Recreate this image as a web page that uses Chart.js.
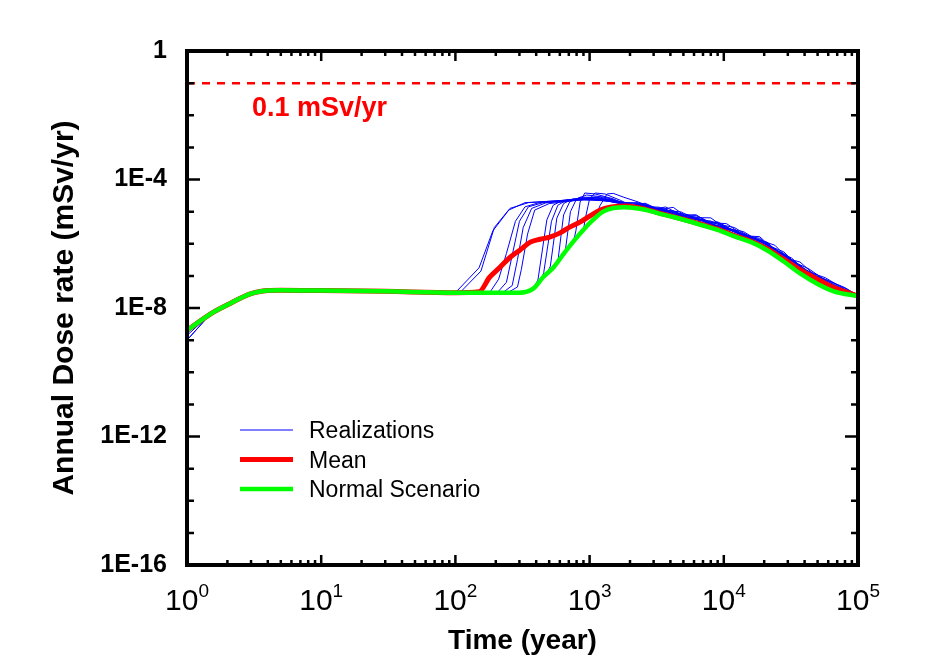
<!DOCTYPE html>
<html>
<head>
<meta charset="utf-8">
<script src="https://cdn.jsdelivr.net/npm/chart.js@4.4.1/dist/chart.umd.min.js"></script>
<style>
  html, body { margin: 0; padding: 0; background: #fff; }
</style>
</head>
<body>
<canvas id="doseChart" width="944" height="663"></canvas>
<script>
// Normal scenario (green) - time in years, dose in mSv/yr
const normalTime = [1, 1.5, 2, 3, 4, 5, 10, 30, 100, 300, 380, 450, 540, 630, 750, 890, 1060, 1260, 1500, 1800,
    2000, 2600, 3300, 4200, 5400, 7000, 9000, 12000, 16000, 21000, 28000, 37000, 50000, 66000, 100000];
const normalDose = [2.0e-9, 6.6e-9, 1.26e-8, 2.8e-8, 3.5e-8, 3.6e-8, 3.5e-8, 3.3e-8, 3.0e-8, 3.0e-8, 4.0e-8, 9.1e-8, 1.86e-7, 4.4e-7, 1.12e-6, 2.6e-6, 5.5e-6, 1.0e-5, 1.29e-5, 1.38e-5,
    1.35e-5, 1.15e-5, 8.7e-6, 6.8e-6, 5.1e-6, 3.7e-6, 2.7e-6, 1.7e-6, 1.12e-6, 6.3e-7, 2.8e-7, 1.2e-7, 5.6e-8, 3.3e-8, 2.35e-8];

// Mean of realizations (red)
const meanTime = [1, 1.5, 2, 3, 4, 5, 10, 30, 100, 150, 180, 215, 256, 302, 361, 427, 504, 598, 710, 847, 1000, 1200, 1420, 1900,
    2600, 3300, 4200, 5400, 7000, 9000, 12000, 16000, 21000, 28000, 37000, 50000, 66000, 100000];
const meanDose = [2.0e-9, 6.6e-9, 1.26e-8, 2.8e-8, 3.5e-8, 3.6e-8, 3.5e-8, 3.3e-8, 3.0e-8, 3.2e-8, 9.1e-8, 1.86e-7, 3.8e-7, 6.3e-7, 1.12e-6, 1.38e-6, 1.62e-6, 2.14e-6, 3.3e-6, 4.7e-6, 7.2e-6, 1.12e-5, 1.38e-5, 1.5e-5,
    1.2e-5, 9.0e-6, 7.0e-6, 5.3e-6, 3.9e-6, 2.85e-6, 1.8e-6, 1.2e-6, 7.0e-7, 3.3e-7, 1.55e-7, 7.8e-8, 4.3e-8, 2.35e-8];

// Realizations (blue): dose at t = 1 yr, then shared early part, own rise, and tail
const realStartDose = [2.0e-9, 2.0e-9, 1.0e-9, 2.0e-9, 1.8e-9, 2.0e-9, 1.4e-9, 2.0e-9, 2.0e-9, 1.0e-9, 2.0e-9, 2.0e-9, 1.8e-9, 2.0e-9];

const realMids = [
    [[150, 1.78e-7], [190, 2.5e-6], [250, 1.12e-5], [330, 1.9e-5], [500, 2.1e-5], [800, 2.4e-5], [1200, 2.5e-5], [1600, 2.0e-5]],
    [[108, 3.0e-8], [155, 1.41e-7], [195, 3.2e-6], [255, 1.26e-5], [350, 1.9e-5], [600, 2.2e-5], [1000, 2.5e-5], [1500, 2.1e-5]],
    [[180, 3.0e-8], [210, 7.9e-8], [240, 5.0e-7], [280, 5.0e-6], [330, 1.41e-5], [420, 1.9e-5], [700, 2.24e-5], [1100, 2.4e-5], [1600, 2.0e-5]],
    [[205, 3.0e-8], [240, 6.3e-8], [270, 6.3e-7], [300, 5.0e-6], [350, 1.41e-5], [450, 1.9e-5], [800, 2.34e-5], [1300, 2.24e-5]],
    [[225, 3.0e-8], [265, 5.0e-8], [290, 3.2e-7], [320, 3.2e-6], [370, 1.26e-5], [470, 1.86e-5], [900, 2.4e-5], [1400, 2.1e-5]],
    [[245, 3.0e-8], [290, 4.5e-8], [310, 1.58e-7], [345, 2.0e-6], [390, 1.12e-5], [500, 1.78e-5], [1000, 2.5e-5], [1500, 2.0e-5]],
    [[300, 3.0e-8], [380, 4.0e-8], [412, 7.4e-8], [480, 5.5e-6], [535, 1.58e-5], [630, 2.24e-5], [1000, 2.6e-5], [1500, 2.24e-5]],
    [[300, 3.0e-8], [380, 4.0e-8], [440, 8.3e-8], [455, 1.26e-7], [520, 5.0e-6], [580, 1.58e-5], [680, 2.34e-5], [1100, 2.7e-5], [1600, 2.1e-5]],
    [[300, 3.0e-8], [380, 4.0e-8], [450, 9.1e-8], [490, 1.4e-7], [510, 2.0e-7], [570, 6.3e-6], [640, 1.78e-5], [750, 2.5e-5], [1100, 2.8e-5], [1700, 2.0e-5]],
    [[300, 3.0e-8], [380, 4.0e-8], [450, 9.1e-8], [540, 1.86e-7], [580, 2.8e-7], [640, 7.9e-6], [710, 2.0e-5], [850, 2.8e-5], [1200, 2.8e-5], [1800, 1.9e-5]],
    [[300, 3.0e-8], [380, 4.0e-8], [450, 9.1e-8], [540, 1.86e-7], [640, 4.8e-7], [660, 6.3e-7], [720, 1.0e-5], [800, 2.5e-5], [950, 3.3e-5], [1300, 2.8e-5], [1900, 1.78e-5]],
    [[300, 3.0e-8], [380, 4.0e-8], [450, 9.1e-8], [540, 1.86e-7], [630, 4.4e-7], [760, 1.2e-6], [790, 2.5e-6], [850, 2.0e-5], [920, 3.8e-5], [1100, 3.55e-5], [1500, 2.5e-5], [1900, 1.58e-5]],
    [[300, 3.0e-8], [380, 4.0e-8], [450, 9.1e-8], [540, 1.86e-7], [630, 4.4e-7], [750, 1.12e-6], [900, 2.7e-6], [930, 6.3e-6], [1000, 2.5e-5], [1100, 3.8e-5], [1300, 3.55e-5], [1700, 2.24e-5]],
    [[300, 3.0e-8], [380, 4.0e-8], [450, 9.1e-8], [540, 1.86e-7], [630, 4.4e-7], [750, 1.12e-6], [890, 2.6e-6], [1100, 6.8e-6], [1200, 1.58e-5], [1350, 3.55e-5], [1500, 3.7e-5], [1800, 2.8e-5]]
];

// tails are read on two staggered time grids (odd realizations use the second)
const tailTimeA = [2000, 2600, 3300, 4200, 5400, 7000, 9000, 12000, 16000, 21000, 28000, 37000, 50000, 66000, 100000];
const tailTimeB = [2300, 2900, 3700, 4800, 6200, 8000, 10500, 14000, 18500, 24000, 32000, 43000, 57000, 80000, 100000];
const realTails = [
    [1.7e-5, 1.52e-5, 1.04e-5, 9.6e-6, 6.4e-6, 5.6e-6, 3.6e-6, 2.7e-6, 1.55e-6, 9.5e-7, 4.6e-7, 2.1e-7, 8.8e-8, 4.0e-8, 2.4e-8],
    [1.41e-5, 1.2e-5, 1.03e-5, 6.8e-6, 6.2e-6, 3.9e-6, 3.0e-6, 1.7e-6, 1.38e-6, 5.9e-7, 2.7e-7, 1.31e-7, 6.2e-8, 3.4e-8, 2.45e-8],
    [1.78e-5, 1.32e-5, 1.23e-5, 8.6e-6, 6.1e-6, 5.8e-6, 3.4e-6, 2.4e-6, 1.48e-6, 1.12e-6, 3.7e-7, 1.8e-7, 1.07e-7, 4.4e-8, 2.35e-8],
    [1.32e-5, 1.1e-5, 8.3e-6, 7.1e-6, 5.0e-6, 3.7e-6, 2.6e-6, 1.55e-6, 1.0e-6, 5.7e-7, 2.3e-7, 1.05e-7, 5.8e-8, 3.0e-8, 2.35e-8],
    [1.62e-5, 1.62e-5, 1.1e-5, 1.07e-5, 6.7e-6, 5.2e-6, 4.5e-6, 2.35e-6, 1.69e-6, 9.1e-7, 5.6e-7, 1.7e-7, 8.5e-8, 4.7e-8, 2.5e-8],
    [1.78e-5, 1.26e-5, 1.18e-5, 7.8e-6, 8.0e-6, 4.2e-6, 2.9e-6, 2.4e-6, 1.17e-6, 7.1e-7, 2.9e-7, 1.66e-7, 7.3e-8, 3.4e-8, 2.4e-8],
    [1.29e-5, 1.15e-5, 9.1e-6, 6.5e-6, 5.5e-6, 3.9e-6, 2.7e-6, 1.87e-6, 1.2e-6, 7.1e-7, 3.1e-7, 1.38e-7, 6.7e-8, 3.6e-8, 2.35e-8],
    [1.59e-5, 1.38e-5, 9.4e-6, 7.8e-6, 6.8e-6, 4.0e-6, 3.3e-6, 1.78e-6, 1.66e-6, 6.2e-7, 3.0e-7, 1.2e-7, 7.8e-8, 4.1e-8, 2.45e-8],
    [1.55e-5, 1.45e-5, 1.37e-5, 8.2e-6, 6.4e-6, 5.4e-6, 3.2e-6, 2.6e-6, 1.41e-6, 8.3e-7, 5.0e-7, 2.0e-7, 7.9e-8, 4.4e-8, 2.4e-8],
    [1.9e-5, 1.32e-5, 1.08e-5, 9.8e-6, 5.7e-6, 5.1e-6, 3.0e-6, 1.78e-6, 1.31e-6, 9.0e-7, 2.7e-7, 1.31e-7, 8.8e-8, 3.8e-8, 2.5e-8],
    [1.48e-5, 1.74e-5, 1.1e-5, 9.4e-6, 8.1e-6, 4.4e-6, 4.8e-6, 2.5e-6, 1.48e-6, 9.5e-7, 3.7e-7, 2.7e-7, 8.8e-8, 4.0e-8, 2.35e-8],
    [1.74e-5, 1.2e-5, 1.39e-5, 7.8e-6, 6.5e-6, 6.4e-6, 2.8e-6, 2.1e-6, 1.25e-6, 6.3e-7, 3.2e-7, 1.25e-7, 7.8e-8, 4.3e-8, 2.45e-8],
    [1.62e-5, 1.82e-5, 1.15e-5, 1.36e-5, 6.4e-6, 5.1e-6, 4.1e-6, 3.2e-6, 1.55e-6, 1.05e-6, 4.1e-7, 2.1e-7, 7.1e-8, 4.4e-8, 2.4e-8],
    [2.0e-5, 1.38e-5, 1.18e-5, 7.4e-6, 7.5e-6, 4.6e-6, 4.2e-6, 1.86e-6, 1.48e-6, 6.5e-7, 3.6e-7, 1.17e-7, 7.3e-8, 3.7e-8, 2.45e-8]
];

// Regulatory limit line
const limitDose = 0.1;
const limitLabel = '0.1 mSv/yr';

// Axis ranges and tick labels
const xMin = 1, xMax = 1e5;
const yMin = 1e-16, yMax = 1;
const yLabelExponents = [0, -4, -8, -12, -16];

const legendItems = [
    { label: 'Realizations', color: '#0000ff', width: 1.2 },
    { label: 'Mean', color: '#ff0000', width: 5 },
    { label: 'Normal Scenario', color: '#00ff00', width: 4.5 }
];

const FONT = '"Liberation Sans", Arial, Helvetica, sans-serif';

function toPoints(times, doses) {
    return times.map((t, i) => ({ x: t, y: doses[i] }));
}

// build each realization: start dose, shared early part up to 100 yr, own rise, tail
const earlyPts = toPoints(normalTime, normalDose).filter(p => p.x > 1 && p.x <= 100);
const realizationData = realMids.map((mid, i) => {
    const first = mid[0][0];
    const tailTime = i % 2 === 0 ? tailTimeA : tailTimeB;
    return [{ x: 1, y: realStartDose[i] }]
        .concat(earlyPts.filter(p => p.x < first))
        .concat(mid.map(p => ({ x: p[0], y: p[1] })))
        .concat(toPoints(tailTime, realTails[i]));
});

const datasets = [];
datasets.push({
    label: 'Normal Scenario',
    data: toPoints(normalTime, normalDose),
    borderColor: '#00ff00',
    borderWidth: 4.5,
    cubicInterpolationMode: 'monotone',
    order: 0
});
datasets.push({
    label: 'Mean',
    data: toPoints(meanTime, meanDose),
    borderColor: '#ff0000',
    borderWidth: 5,
    cubicInterpolationMode: 'monotone',
    order: 1
});
realizationData.forEach((pts, i) => {
    datasets.push({
        label: 'Realization ' + (i + 1),
        data: pts,
        borderColor: '#0000ff',
        borderWidth: 1,
        tension: 0,
        order: 2
    });
});
datasets.push({
    label: 'Limit',
    data: [{ x: xMin, y: limitDose }, { x: xMax, y: limitDose }],
    borderColor: '#ff0000',
    borderWidth: 2.5,
    borderDash: [8, 7],
    order: 3
});

// frame, inward ticks, x labels with superscripts, legend and limit text
const decorations = {
    id: 'decorations',
    afterDatasetsDraw(chart) {
        const { ctx, chartArea: a, scales: { x, y } } = chart;
        ctx.save();
        ctx.strokeStyle = '#000';
        ctx.lineWidth = 4;
        ctx.strokeRect(a.left, a.top, a.right - a.left, a.bottom - a.top);

        ctx.lineWidth = 2.5;
        ctx.beginPath();
        for (let d = 0; d < 5; d++) {
            for (let m = 1; m <= 9; m++) {
                const px = x.getPixelForValue(m * Math.pow(10, d));
                const len = m === 1 ? 10 : 5;
                ctx.moveTo(px, a.bottom); ctx.lineTo(px, a.bottom - len);
                ctx.moveTo(px, a.top); ctx.lineTo(px, a.top + len);
            }
        }
        for (let e = -16; e <= 0; e++) {
            const py = y.getPixelForValue(Math.pow(10, e));
            const len = e % 4 === 0 ? 13 : 7;
            ctx.moveTo(a.left, py); ctx.lineTo(a.left + len, py);
            ctx.moveTo(a.right, py); ctx.lineTo(a.right - len, py);
        }
        ctx.stroke();

        // x tick labels 10^n
        ctx.fillStyle = '#000';
        ctx.textBaseline = 'alphabetic';
        ctx.textAlign = 'left';
        for (let d = 0; d <= 5; d++) {
            const px = x.getPixelForValue(Math.pow(10, d));
            ctx.font = '30px ' + FONT;
            const w1 = ctx.measureText('10').width;
            ctx.font = '19px ' + FONT;
            const w2 = ctx.measureText(String(d)).width;
            const left = px - (w1 + w2) / 2;
            ctx.font = '30px ' + FONT;
            ctx.fillText('10', left, a.bottom + 45);
            ctx.font = '19px ' + FONT;
            ctx.fillText(String(d), left + w1, a.bottom + 32);
        }

        // limit label
        ctx.fillStyle = '#ff0000';
        ctx.font = 'bold 27px ' + FONT;
        ctx.fillText(limitLabel, a.left + 65, y.getPixelForValue(limitDose) + 33);

        // legend
        const lx0 = a.left + 53, lx1 = a.left + 106, tx = a.left + 122;
        legendItems.forEach((item, i) => {
            const ly = a.top + 379 + i * 29.5;
            ctx.strokeStyle = item.color;
            ctx.lineWidth = item.width;
            ctx.beginPath();
            ctx.moveTo(lx0, ly); ctx.lineTo(lx1, ly);
            ctx.stroke();
            ctx.fillStyle = '#000';
            ctx.font = '23px ' + FONT;
            ctx.fillText(item.label, tx, ly + 8);
        });
        ctx.restore();
    }
};

const chart = new Chart(document.getElementById('doseChart'), {
    type: 'line',
    data: { datasets },
    options: {
        responsive: false,
        animation: false,
        devicePixelRatio: 1,
        layout: { padding: { left: 0, top: 51, right: 86, bottom: 0 } },
        elements: { point: { radius: 0 }, line: { fill: false } },
        plugins: { legend: { display: false }, tooltip: { enabled: false } },
        scales: {
            x: {
                type: 'logarithmic',
                min: xMin,
                max: xMax,
                grid: { display: false, drawTicks: false },
                border: { display: false },
                ticks: { display: false },
                title: {
                    display: true,
                    text: 'Time (year)',
                    color: '#000',
                    font: { family: FONT, size: 28, weight: 'bold' },
                    padding: { top: 0, bottom: 5 }
                },
                afterFit: s => { s.height = 98; }
            },
            y: {
                type: 'logarithmic',
                min: yMin,
                max: yMax,
                grid: { display: false, drawTicks: false },
                border: { display: false },
                afterBuildTicks: s => {
                    const ticks = [];
                    for (let e = -16; e <= 0; e++) ticks.push({ value: Math.pow(10, e) });
                    s.ticks = ticks;
                },
                ticks: {
                    autoSkip: false,
                    padding: 20,
                    color: '#000',
                    font: { family: FONT, size: 25, weight: 'bold' },
                    callback: v => {
                        const e = Math.round(Math.log10(v));
                        if (!yLabelExponents.includes(e)) return '';
                        return e === 0 ? '1' : '1E' + e;
                    }
                },
                title: {
                    display: true,
                    text: 'Annual Dose rate (mSv/yr)',
                    color: '#000',
                    font: { family: FONT, size: 30, weight: 'bold' },
                    padding: { top: 47, bottom: 0 }
                },
                afterFit: s => { s.width = 187; }
            }
        }
    },
    plugins: [decorations]
});
</script>
</body>
</html>
